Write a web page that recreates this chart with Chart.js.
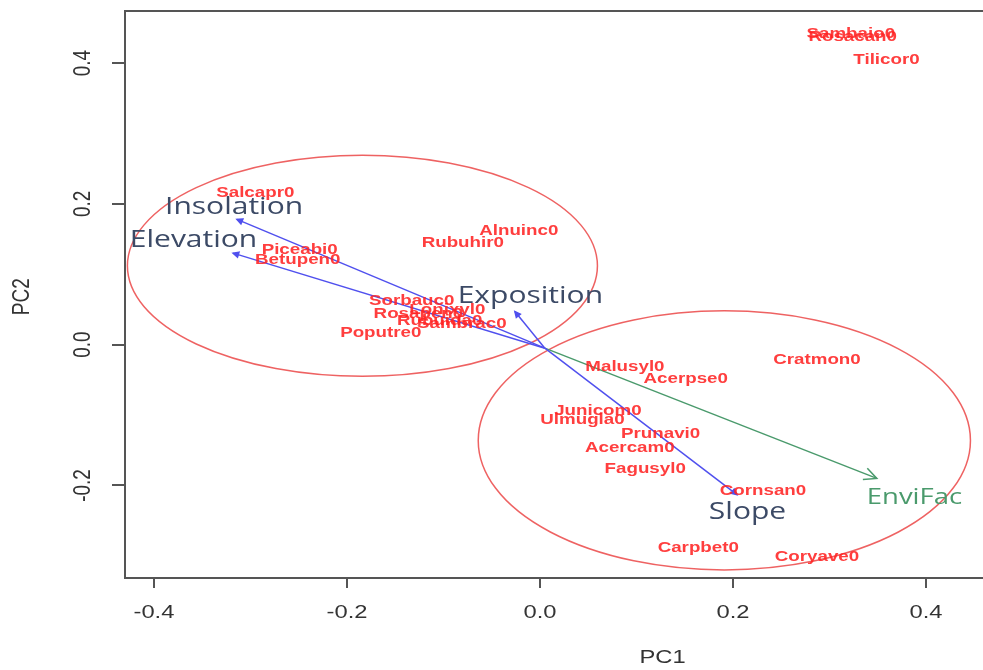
<!DOCTYPE html>
<html>
<head>
<meta charset="utf-8">
<script src="https://cdn.jsdelivr.net/npm/chart.js@4.4.1/dist/chart.umd.min.js"></script>
<style>
  html, body { margin: 0; padding: 0; background: #fff; }
  #wrap { width: 983px; height: 670px; position: relative; }
</style>
</head>
<body>
<div id="wrap"><canvas id="pca"></canvas></div>
<script>
// axis ticks
const xTicks = [-0.4, -0.2, 0.0, 0.2, 0.4];
const yTicks = [-0.2, 0.0, 0.2, 0.4];

// species scores (PC1, PC2)
const speciesNames = [
  'Sambaio0', 'Rosacan0', 'Tilicor0', 'Salcapr0', 'Piceabi0', 'Betupen0',
  'Alnuinc0', 'Rubuhir0', 'Sorbauc0', 'Rosapen0', 'Lonixyl0', 'Rubuida0',
  'Sambrac0', 'Poputre0', 'Malusyl0', 'Acerpse0', 'Cratmon0', 'Junicom0',
  'Ulmugla0', 'Prunavi0', 'Acercam0', 'Fagusyl0', 'Cornsan0', 'Carpbet0', 'Coryave0'
];
const speciesPC1 = [
  0.322, 0.324, 0.359, -0.295, -0.249, -0.251,
  -0.022, -0.080, -0.133, -0.126, -0.096, -0.104,
  -0.081, -0.165, 0.088, 0.151, 0.287, 0.060,
  0.044, 0.125, 0.093, 0.109, 0.231, 0.164, 0.287
];
const speciesPC2 = [
  0.442, 0.437, 0.405, 0.215, 0.134, 0.120,
  0.161, 0.144, 0.062, 0.044, 0.049, 0.034,
  0.030, 0.017, -0.032, -0.049, -0.021, -0.094,
  -0.107, -0.127, -0.146, -0.176, -0.208, -0.288, -0.302
];

// environmental vectors
const varNames = ['Insolation', 'Elevation', 'Exposition', 'Slope', 'EnviFac'];
const varHeadX = [-0.314, -0.318, -0.026, 0.204, 0.349];
const varHeadY = [0.178, 0.130, 0.047, -0.213, -0.190];
const varLabelX = [-0.317, -0.359, -0.010, 0.215, 0.388];
const varLabelY = [0.195, 0.148, 0.069, -0.238, -0.217];
const arrowOrigin = [0.005, -0.005];

// group ellipses
const ellipseCX = [-0.184, 0.191];
const ellipseCY = [0.112, -0.136];
const ellipseRX = [0.2435, 0.255];
const ellipseRY = [0.157, 0.184];

const STRETCH = 1.25;
const BLUE = '#5050ee';
const GREEN = '#4a9a6c';

function stretchText(ctx, text, x, y, font, color, rotate) {
  ctx.save();
  ctx.translate(x, y);
  ctx.scale(STRETCH, 1);
  if (rotate) ctx.rotate(-Math.PI / 2);
  ctx.font = font;
  ctx.fillStyle = color;
  ctx.textAlign = 'center';
  ctx.textBaseline = 'middle';
  ctx.fillText(text, 0, 0);
  ctx.restore();
}

function arrowHead(ctx, x0, y0, x1, y1, len, open, color) {
  const a = Math.atan2(y1 - y0, x1 - x0);
  const w = Math.PI / 7;
  ctx.save();
  ctx.strokeStyle = color;
  ctx.fillStyle = color;
  ctx.lineWidth = 1.5;
  ctx.beginPath();
  ctx.moveTo(x1 - len * Math.cos(a - w), y1 - len * Math.sin(a - w));
  ctx.lineTo(x1, y1);
  ctx.lineTo(x1 - len * Math.cos(a + w), y1 - len * Math.sin(a + w));
  if (open) {
    ctx.stroke();
  } else {
    ctx.closePath();
    ctx.fill();
    ctx.stroke();
  }
  ctx.restore();
}

const biplotPlugin = {
  id: 'biplot',
  beforeDatasetsDraw(chart) {
    const { ctx, scales: { x, y } } = chart;
    ctx.save();
    ctx.strokeStyle = 'rgba(235, 70, 70, 0.85)';
    ctx.lineWidth = 1.5;
    ellipseCX.forEach(function (cx, i) {
      const px = x.getPixelForValue(cx);
      const py = y.getPixelForValue(ellipseCY[i]);
      const rx = Math.abs(x.getPixelForValue(cx + ellipseRX[i]) - px);
      const ry = Math.abs(y.getPixelForValue(ellipseCY[i] + ellipseRY[i]) - py);
      ctx.beginPath();
      ctx.ellipse(px, py, rx, ry, 0, 0, Math.PI * 2);
      ctx.stroke();
    });
    ctx.restore();
  },
  afterDatasetsDraw(chart) {
    const { ctx, scales: { x, y } } = chart;
    const ox = x.getPixelForValue(arrowOrigin[0]);
    const oy = y.getPixelForValue(arrowOrigin[1]);
    varNames.forEach(function (name, i) {
      const hx = x.getPixelForValue(varHeadX[i]);
      const hy = y.getPixelForValue(varHeadY[i]);
      const isEnv = name === 'EnviFac';
      arrowHead(ctx, ox, oy, hx, hy, isEnv ? 14 : 6, isEnv, isEnv ? GREEN : BLUE);
    });
    speciesNames.forEach(function (name, i) {
      stretchText(ctx, name, x.getPixelForValue(speciesPC1[i]), y.getPixelForValue(speciesPC2[i]),
        'bold 15px "Liberation Sans", Arial, sans-serif', 'rgba(255, 35, 35, 0.88)');
    });
    varNames.forEach(function (name, i) {
      const isEnv = name === 'EnviFac';
      stretchText(ctx, name, x.getPixelForValue(varLabelX[i]), y.getPixelForValue(varLabelY[i]),
        (isEnv ? '22px' : '24px') + ' "Open Sans", sans-serif', isEnv ? GREEN : '#3c4a66');
    });
  },
  afterDraw(chart) {
    const { ctx, chartArea, scales: { x, y } } = chart;
    // top frame line
    ctx.save();
    ctx.strokeStyle = '#555';
    ctx.lineWidth = 2;
    ctx.beginPath();
    ctx.moveTo(chartArea.left - 1, chartArea.top);
    ctx.lineTo(chartArea.right, chartArea.top);
    ctx.stroke();
    ctx.restore();
    const tickFont = '19px "Liberation Sans", Arial, sans-serif';
    xTicks.forEach(function (v) {
      stretchText(ctx, v.toFixed(1), x.getPixelForValue(v), chartArea.bottom + 35, tickFont, '#333');
    });
    yTicks.forEach(function (v) {
      stretchText(ctx, v.toFixed(1), chartArea.left - 42, y.getPixelForValue(v), tickFont, '#333', true);
    });
    stretchText(ctx, 'PC1', x.getPixelForValue(0.127), chartArea.bottom + 80, tickFont, '#333');
    stretchText(ctx, 'PC2', 22, y.getPixelForValue(0.068), tickFont, '#333', true);
  }
};

const arrowDatasets = varNames.map(function (name, i) {
  const c = name === 'EnviFac' ? GREEN : BLUE;
  return {
    label: name,
    data: [{ x: arrowOrigin[0], y: arrowOrigin[1] }, { x: varHeadX[i], y: varHeadY[i] }],
    showLine: true,
    borderColor: c,
    borderWidth: 1.5,
    pointRadius: 0,
    fill: false
  };
});

new Chart(document.getElementById('pca'), {
  type: 'scatter',
  data: {
    datasets: [{
      label: 'Species',
      data: speciesPC1.map(function (v, i) { return { x: v, y: speciesPC2[i] }; }),
      pointRadius: 0
    }].concat(arrowDatasets)
  },
  options: {
    responsive: true,
    maintainAspectRatio: false,
    animation: false,
    layout: { padding: { top: 11, left: 0, right: 0, bottom: 0 } },
    plugins: { legend: { display: false }, tooltip: { enabled: false } },
    scales: {
      x: {
        type: 'linear',
        min: -0.430,
        max: 0.459,
        afterBuildTicks: function (s) { s.ticks = xTicks.map(function (v) { return { value: v }; }); },
        afterFit: function (s) { s.height = 92; },
        ticks: { display: false },
        grid: { drawOnChartArea: false, drawTicks: true, tickLength: 10, color: '#555', lineWidth: 2 },
        border: { display: true, color: '#555', width: 2 }
      },
      y: {
        type: 'linear',
        min: -0.3315,
        max: 0.474,
        afterBuildTicks: function (s) { s.ticks = yTicks.map(function (v) { return { value: v }; }); },
        afterFit: function (s) { s.width = 125; },
        ticks: { display: false },
        grid: { drawOnChartArea: false, drawTicks: true, tickLength: 13, color: '#555', lineWidth: 2 },
        border: { display: true, color: '#555', width: 2 }
      }
    }
  },
  plugins: [biplotPlugin]
});
</script>
</body>
</html>
